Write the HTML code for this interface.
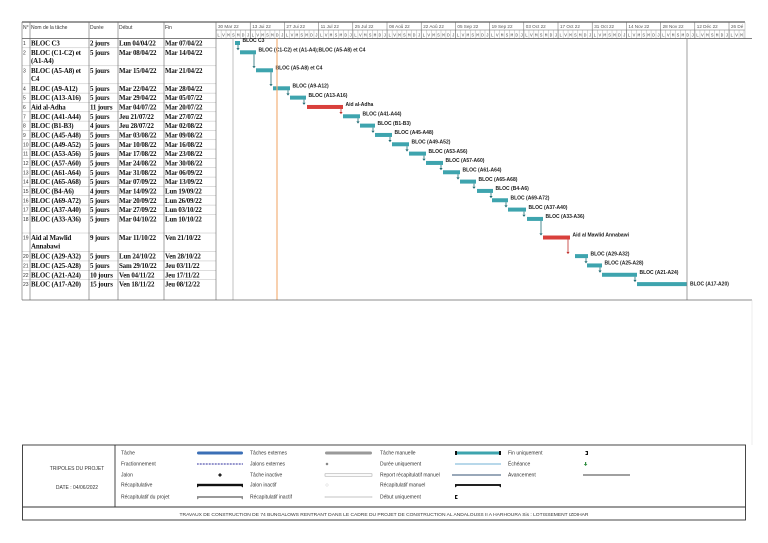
<!DOCTYPE html>
<html><head><meta charset="utf-8"><style>
html,body{margin:0;padding:0;background:#fff;}
svg{display:block;}
.t{font-family:"Liberation Serif",serif;font-weight:bold;font-size:6.9px;letter-spacing:-0.15px;fill:#111;}
.h{font-family:"Liberation Sans",sans-serif;font-size:5px;fill:#333;}
.g{font-family:"Liberation Sans",sans-serif;font-weight:bold;font-size:5px;fill:#222;}
.n{font-family:"Liberation Sans",sans-serif;font-size:4.6px;fill:#555;}
.m{font-family:"Liberation Mono",monospace;font-size:4.5px;letter-spacing:2.186px;fill:#555;}
.l{font-family:"Liberation Sans",sans-serif;font-size:5px;fill:#333;}
.s{stroke:#bbb;stroke-width:0.5;}
.b{fill:#3ea4ae;}
.r{fill:#d9403c;}
.a{stroke:#1f6b73;stroke-width:0.8;fill:none;}
.ah{fill:#1f6b73;}
.ar{stroke:#c0302c;stroke-width:0.8;fill:none;}
.ahr{fill:#c0302c;}
</style></head><body>
<svg width="768" height="543" viewBox="0 0 768 543" xmlns="http://www.w3.org/2000/svg">
<defs>
<pattern id="mt" x="216" y="0" width="4.886" height="10" patternUnits="userSpaceOnUse"><line x1="0.2" y1="0" x2="0.2" y2="10" stroke="#999" stroke-width="0.4"/></pattern>
</defs>
<rect width="768" height="543" fill="#fff"/>
<!-- header -->
<line x1="22" y1="22" x2="745" y2="22" stroke="#333" stroke-width="1"/>
<rect x="216" y="30" width="529" height="8.5" fill="url(#mt)"/>
<line x1="216" y1="30" x2="745" y2="30" stroke="#666" stroke-width="0.5"/>
<line x1="745" y1="22" x2="745" y2="38.5" stroke="#aaa" stroke-width="0.5"/>
<g stroke="#666" stroke-width="0.5">
<line x1="250.2" y1="22" x2="250.2" y2="38.5"/><line x1="284.4" y1="22" x2="284.4" y2="38.5"/><line x1="318.6" y1="22" x2="318.6" y2="38.5"/><line x1="352.8" y1="22" x2="352.8" y2="38.5"/><line x1="387" y1="22" x2="387" y2="38.5"/><line x1="421.2" y1="22" x2="421.2" y2="38.5"/><line x1="455.4" y1="22" x2="455.4" y2="38.5"/><line x1="489.6" y1="22" x2="489.6" y2="38.5"/><line x1="523.8" y1="22" x2="523.8" y2="38.5"/><line x1="558" y1="22" x2="558" y2="38.5"/><line x1="592.2" y1="22" x2="592.2" y2="38.5"/><line x1="626.4" y1="22" x2="626.4" y2="38.5"/><line x1="660.6" y1="22" x2="660.6" y2="38.5"/><line x1="694.8" y1="22" x2="694.8" y2="38.5"/><line x1="729" y1="22" x2="729" y2="38.5"/>
</g>
<g class="n">
<text x="218" y="28">30 Mar 22</text><text x="252.2" y="28">13 Jui 22</text><text x="286.4" y="28">27 Jui 22</text><text x="320.6" y="28">11 Jul 22</text><text x="354.8" y="28">25 Jul 22</text><text x="389" y="28">08 Aoû 22</text><text x="423.2" y="28">22 Aoû 22</text><text x="457.4" y="28">05 Sep 22</text><text x="491.6" y="28">19 Sep 22</text><text x="525.8" y="28">03 Oct 22</text><text x="560" y="28">17 Oct 22</text><text x="594.2" y="28">31 Oct 22</text><text x="628.4" y="28">14 Nov 22</text><text x="662.6" y="28">28 Nov 22</text><text x="696.8" y="28">12 Déc 22</text><text x="731" y="28">26 Dé</text>
</g>
<text x="217.3" y="36.5" class="m">LVMSMDJLVMSMDJLVMSMDJLVMSMDJLVMSMDJLVMSMDJLVMSMDJLVMSMDJLVMSMDJLVMSMDJLVMSMDJLVMSMDJLVMSMDJLVMSMDJLVMSMDJLVM</text>
<text x="23" y="29" class="h">N°</text><text x="31" y="29" class="h">Nom de la tâche</text><text x="90" y="29" class="h">Durée</text><text x="119" y="29" class="h">Début</text><text x="165" y="29" class="h">Fin</text>
<line x1="22" y1="38.5" x2="752" y2="38.5" stroke="#555" stroke-width="0.7"/>

<!-- rows -->
<g transform="translate(0,38.5)"><text x="23" y="6.5" class="h">1</text><text x="31" y="7" class="t">BLOC C3</text><text x="90" y="7" class="t">2 jours</text><text x="119" y="7" class="t">Lun 04/04/22</text><text x="165" y="7" class="t">Mar 07/04/22</text><line x1="22" x2="216" y1="9.3" y2="9.3" class="s"/>
<rect x="235" y="2.5" width="5" height="4" class="b"/><text x="242.5" y="3.7" class="g">BLOC C3</text><path d="M238 6.5V9.6" class="a"/><path d="M236.4 9.6h3.2l-1.6 2.2z" class="ah"/></g>

<g transform="translate(0,47.8)"><text x="23" y="6.5" class="h">2</text><text x="31" y="7" class="t">BLOC (C1-C2) et</text><text x="31" y="15.3" class="t">(A1-A4)</text><text x="90" y="7" class="t">5 jours</text><text x="119" y="7" class="t">Mar 08/04/22</text><text x="165" y="7" class="t">Mar 14/04/22</text><line x1="22" x2="216" y1="18" y2="18" class="s"/>
<rect x="240" y="2.5" width="16" height="4" class="b"/><text x="258.5" y="3.7" class="g">BLOC (C1-C2) et (A1-A4);BLOC (A5-A8) et C4</text><path d="M254 6.5V18.3" class="a"/><path d="M252.4 18.3h3.2l-1.6 2.2z" class="ah"/></g>

<g transform="translate(0,65.8)"><text x="23" y="6.5" class="h">3</text><text x="31" y="7" class="t">BLOC (A5-A8) et</text><text x="31" y="15.3" class="t">C4</text><text x="90" y="7" class="t">5 jours</text><text x="119" y="7" class="t">Mar 15/04/22</text><text x="165" y="7" class="t">Mar 21/04/22</text><line x1="22" x2="216" y1="18" y2="18" class="s"/>
<rect x="256" y="2.5" width="17" height="4" class="b"/><text x="275.5" y="3.7" class="g">BLOC (A5-A8) et C4</text><path d="M271 6.5V18.3" class="a"/><path d="M269.4 18.3h3.2l-1.6 2.2z" class="ah"/></g>

<g transform="translate(0,83.8)"><text x="23" y="6.5" class="h">4</text><text x="31" y="7" class="t">BLOC (A9-A12)</text><text x="90" y="7" class="t">5 jours</text><text x="119" y="7" class="t">Mar 22/04/22</text><text x="165" y="7" class="t">Mar 28/04/22</text><line x1="22" x2="216" y1="9.33" y2="9.33" class="s"/>
<rect x="273" y="2.5" width="17" height="4" class="b"/><text x="292.5" y="3.7" class="g">BLOC (A9-A12)</text><path d="M288 6.5V9.6" class="a"/><path d="M286.4 9.6h3.2l-1.6 2.2z" class="ah"/></g>

<g transform="translate(0,93.13)"><text x="23" y="6.5" class="h">5</text><text x="31" y="7" class="t">BLOC (A13-A16)</text><text x="90" y="7" class="t">5 jours</text><text x="119" y="7" class="t">Mar 29/04/22</text><text x="165" y="7" class="t">Mar 05/07/22</text><line x1="22" x2="216" y1="9.33" y2="9.33" class="s"/>
<rect x="290" y="2.5" width="16" height="4" class="b"/><text x="308.5" y="3.7" class="g">BLOC (A13-A16)</text><path d="M304 6.5V9.6" class="a"/><path d="M302.4 9.6h3.2l-1.6 2.2z" class="ah"/></g>

<g transform="translate(0,102.46)"><text x="23" y="6.5" class="h">6</text><text x="31" y="7" class="t">Aid al-Adha</text><text x="90" y="7" class="t">11 jours</text><text x="119" y="7" class="t">Mar 04/07/22</text><text x="165" y="7" class="t">Mar 20/07/22</text><line x1="22" x2="216" y1="9.33" y2="9.33" class="s"/>
<rect x="307" y="2.5" width="36" height="4" class="r"/><text x="345.5" y="3.7" class="g">Aid al-Adha</text><path d="M341 6.5V9.6" class="ar"/><path d="M339.4 9.6h3.2l-1.6 2.2z" class="ahr"/></g>

<g transform="translate(0,111.79)"><text x="23" y="6.5" class="h">7</text><text x="31" y="7" class="t">BLOC (A41-A44)</text><text x="90" y="7" class="t">5 jours</text><text x="119" y="7" class="t">Jeu 21/07/22</text><text x="165" y="7" class="t">Mar 27/07/22</text><line x1="22" x2="216" y1="9.33" y2="9.33" class="s"/>
<rect x="343" y="2.5" width="17" height="4" class="b"/><text x="362.5" y="3.7" class="g">BLOC (A41-A44)</text><path d="M358 6.5V9.6" class="a"/><path d="M356.4 9.6h3.2l-1.6 2.2z" class="ah"/></g>

<g transform="translate(0,121.12)"><text x="23" y="6.5" class="h">8</text><text x="31" y="7" class="t">BLOC (B1-B3)</text><text x="90" y="7" class="t">4 jours</text><text x="119" y="7" class="t">Jeu 28/07/22</text><text x="165" y="7" class="t">Mar 02/08/22</text><line x1="22" x2="216" y1="9.33" y2="9.33" class="s"/>
<rect x="360" y="2.5" width="15" height="4" class="b"/><text x="377.5" y="3.7" class="g">BLOC (B1-B3)</text><path d="M373 6.5V9.6" class="a"/><path d="M371.4 9.6h3.2l-1.6 2.2z" class="ah"/></g>

<g transform="translate(0,130.45)"><text x="23" y="6.5" class="h">9</text><text x="31" y="7" class="t">BLOC (A45-A48)</text><text x="90" y="7" class="t">5 jours</text><text x="119" y="7" class="t">Mar 03/08/22</text><text x="165" y="7" class="t">Mar 09/08/22</text><line x1="22" x2="216" y1="9.33" y2="9.33" class="s"/>
<rect x="375" y="2.5" width="17" height="4" class="b"/><text x="394.5" y="3.7" class="g">BLOC (A45-A48)</text><path d="M390 6.5V9.6" class="a"/><path d="M388.4 9.6h3.2l-1.6 2.2z" class="ah"/></g>

<g transform="translate(0,139.78)"><text x="23" y="6.5" class="h">10</text><text x="31" y="7" class="t">BLOC (A49-A52)</text><text x="90" y="7" class="t">5 jours</text><text x="119" y="7" class="t">Mar 10/08/22</text><text x="165" y="7" class="t">Mar 16/08/22</text><line x1="22" x2="216" y1="9.33" y2="9.33" class="s"/>
<rect x="392" y="2.5" width="17" height="4" class="b"/><text x="411.5" y="3.7" class="g">BLOC (A49-A52)</text><path d="M407 6.5V9.6" class="a"/><path d="M405.4 9.6h3.2l-1.6 2.2z" class="ah"/></g>

<g transform="translate(0,149.11)"><text x="23" y="6.5" class="h">11</text><text x="31" y="7" class="t">BLOC (A53-A56)</text><text x="90" y="7" class="t">5 jours</text><text x="119" y="7" class="t">Mar 17/08/22</text><text x="165" y="7" class="t">Mar 23/08/22</text><line x1="22" x2="216" y1="9.33" y2="9.33" class="s"/>
<rect x="409" y="2.5" width="17" height="4" class="b"/><text x="428.5" y="3.7" class="g">BLOC (A53-A56)</text><path d="M424 6.5V9.6" class="a"/><path d="M422.4 9.6h3.2l-1.6 2.2z" class="ah"/></g>

<g transform="translate(0,158.44)"><text x="23" y="6.5" class="h">12</text><text x="31" y="7" class="t">BLOC (A57-A60)</text><text x="90" y="7" class="t">5 jours</text><text x="119" y="7" class="t">Mar 24/08/22</text><text x="165" y="7" class="t">Mar 30/08/22</text><line x1="22" x2="216" y1="9.33" y2="9.33" class="s"/>
<rect x="426" y="2.5" width="17" height="4" class="b"/><text x="445.5" y="3.7" class="g">BLOC (A57-A60)</text><path d="M441 6.5V9.6" class="a"/><path d="M439.4 9.6h3.2l-1.6 2.2z" class="ah"/></g>

<g transform="translate(0,167.77)"><text x="23" y="6.5" class="h">13</text><text x="31" y="7" class="t">BLOC (A61-A64)</text><text x="90" y="7" class="t">5 jours</text><text x="119" y="7" class="t">Mar 31/08/22</text><text x="165" y="7" class="t">Mar 06/09/22</text><line x1="22" x2="216" y1="9.33" y2="9.33" class="s"/>
<rect x="443" y="2.5" width="17" height="4" class="b"/><text x="462.5" y="3.7" class="g">BLOC (A61-A64)</text><path d="M458 6.5V9.6" class="a"/><path d="M456.4 9.6h3.2l-1.6 2.2z" class="ah"/></g>

<g transform="translate(0,177.1)"><text x="23" y="6.5" class="h">14</text><text x="31" y="7" class="t">BLOC (A65-A68)</text><text x="90" y="7" class="t">5 jours</text><text x="119" y="7" class="t">Mar 07/09/22</text><text x="165" y="7" class="t">Mar 13/09/22</text><line x1="22" x2="216" y1="9.33" y2="9.33" class="s"/>
<rect x="460" y="2.5" width="16" height="4" class="b"/><text x="478.5" y="3.7" class="g">BLOC (A65-A68)</text><path d="M474 6.5V9.6" class="a"/><path d="M472.4 9.6h3.2l-1.6 2.2z" class="ah"/></g>

<g transform="translate(0,186.43)"><text x="23" y="6.5" class="h">15</text><text x="31" y="7" class="t">BLOC (B4-A6)</text><text x="90" y="7" class="t">4 jours</text><text x="119" y="7" class="t">Mar 14/09/22</text><text x="165" y="7" class="t">Lun 19/09/22</text><line x1="22" x2="216" y1="9.33" y2="9.33" class="s"/>
<rect x="477" y="2.5" width="16" height="4" class="b"/><text x="495.5" y="3.7" class="g">BLOC (B4-A6)</text><path d="M491 6.5V9.6" class="a"/><path d="M489.4 9.6h3.2l-1.6 2.2z" class="ah"/></g>

<g transform="translate(0,195.76)"><text x="23" y="6.5" class="h">16</text><text x="31" y="7" class="t">BLOC (A69-A72)</text><text x="90" y="7" class="t">5 jours</text><text x="119" y="7" class="t">Mar 20/09/22</text><text x="165" y="7" class="t">Lun 26/09/22</text><line x1="22" x2="216" y1="9.33" y2="9.33" class="s"/>
<rect x="492" y="2.5" width="16" height="4" class="b"/><text x="510.5" y="3.7" class="g">BLOC (A69-A72)</text><path d="M506 6.5V9.6" class="a"/><path d="M504.4 9.6h3.2l-1.6 2.2z" class="ah"/></g>

<g transform="translate(0,205.09)"><text x="23" y="6.5" class="h">17</text><text x="31" y="7" class="t">BLOC (A37-A40)</text><text x="90" y="7" class="t">5 jours</text><text x="119" y="7" class="t">Mar 27/09/22</text><text x="165" y="7" class="t">Lun 03/10/22</text><line x1="22" x2="216" y1="9.33" y2="9.33" class="s"/>
<rect x="508" y="2.5" width="18" height="4" class="b"/><text x="528.5" y="3.7" class="g">BLOC (A37-A40)</text><path d="M524 6.5V9.6" class="a"/><path d="M522.4 9.6h3.2l-1.6 2.2z" class="ah"/></g>

<g transform="translate(0,214.42)"><text x="23" y="6.5" class="h">18</text><text x="31" y="7" class="t">BLOC (A33-A36)</text><text x="90" y="7" class="t">5 jours</text><text x="119" y="7" class="t">Mar 04/10/22</text><text x="165" y="7" class="t">Lun 10/10/22</text><line x1="22" x2="216" y1="18.6" y2="18.6" class="s"/>
<rect x="527" y="2.5" width="16" height="4" class="b"/><text x="545.5" y="3.7" class="g">BLOC (A33-A36)</text><path d="M541 6.5V18.9" class="a"/><path d="M539.4 18.9h3.2l-1.6 2.2z" class="ah"/></g>

<g transform="translate(0,233.02)"><text x="23" y="6.5" class="h">19</text><text x="31" y="7" class="t">Aid al Mawlid</text><text x="31" y="15.3" class="t">Annabawi</text><text x="90" y="7" class="t">9 jours</text><text x="119" y="7" class="t">Mar 11/10/22</text><text x="165" y="7" class="t">Ven 21/10/22</text><line x1="22" x2="216" y1="18.6" y2="18.6" class="s"/>
<rect x="543" y="2.5" width="27" height="4" class="r"/><text x="572.5" y="3.7" class="g">Aid al Mawlid Annabawi</text><path d="M568 6.5V18.9" class="ar"/><path d="M566.4 18.9h3.2l-1.6 2.2z" class="ahr"/></g>

<g transform="translate(0,251.62)"><text x="23" y="6.5" class="h">20</text><text x="31" y="7" class="t">BLOC (A29-A32)</text><text x="90" y="7" class="t">5 jours</text><text x="119" y="7" class="t">Lun 24/10/22</text><text x="165" y="7" class="t">Ven 28/10/22</text><line x1="22" x2="216" y1="9.33" y2="9.33" class="s"/>
<rect x="575" y="2.5" width="13" height="4" class="b"/><text x="590.5" y="3.7" class="g">BLOC (A29-A32)</text><path d="M586 6.5V9.6" class="a"/><path d="M584.4 9.6h3.2l-1.6 2.2z" class="ah"/></g>

<g transform="translate(0,260.95)"><text x="23" y="6.5" class="h">21</text><text x="31" y="7" class="t">BLOC (A25-A28)</text><text x="90" y="7" class="t">5 jours</text><text x="119" y="7" class="t">Sam 29/10/22</text><text x="165" y="7" class="t">Jeu 03/11/22</text><line x1="22" x2="216" y1="9.33" y2="9.33" class="s"/>
<rect x="587" y="2.5" width="15" height="4" class="b"/><text x="604.5" y="3.7" class="g">BLOC (A25-A28)</text><path d="M600 6.5V9.6" class="a"/><path d="M598.4 9.6h3.2l-1.6 2.2z" class="ah"/></g>

<g transform="translate(0,270.28)"><text x="23" y="6.5" class="h">22</text><text x="31" y="7" class="t">BLOC (A21-A24)</text><text x="90" y="7" class="t">10 jours</text><text x="119" y="7" class="t">Ven 04/11/22</text><text x="165" y="7" class="t">Jeu 17/11/22</text><line x1="22" x2="216" y1="9.33" y2="9.33" class="s"/>
<rect x="602" y="2.5" width="35" height="4" class="b"/><text x="639.5" y="3.7" class="g">BLOC (A21-A24)</text><path d="M635 6.5V9.6" class="a"/><path d="M633.4 9.6h3.2l-1.6 2.2z" class="ah"/></g>

<g transform="translate(0,279.61)"><text x="23" y="6.5" class="h">23</text><text x="31" y="7" class="t">BLOC (A17-A20)</text><text x="90" y="7" class="t">15 jours</text><text x="119" y="7" class="t">Ven 18/11/22</text><text x="165" y="7" class="t">Jeu 08/12/22</text>
<rect x="637" y="2.5" width="50" height="4" class="b"/><text x="690" y="6" class="g">BLOC (A17-A20)</text></g>

<!-- grid lines -->
<g stroke="#666" stroke-width="0.6">
<line x1="22" y1="22" x2="22" y2="300"/><line x1="30" y1="22" x2="30" y2="300"/><line x1="89" y1="22" x2="89" y2="300"/><line x1="118" y1="22" x2="118" y2="300"/><line x1="164" y1="22" x2="164" y2="300"/><line x1="216" y1="22" x2="216" y2="300"/>
</g>
<line x1="233" y1="38.5" x2="233" y2="300" stroke="#999" stroke-width="0.6"/>
<line x1="687" y1="38.5" x2="687" y2="300" stroke="#888" stroke-width="0.8"/>
<line x1="277" y1="38.5" x2="277" y2="300" stroke="#f2b27a" stroke-width="1.2"/>
<line x1="22" y1="300" x2="752" y2="300" stroke="#666" stroke-width="0.8"/>
<line x1="752" y1="300" x2="752" y2="445" stroke="#ddd" stroke-width="0.5"/>

<!-- legend -->
<rect x="22.5" y="445" width="723" height="75" fill="none" stroke="#333" stroke-width="0.9"/>
<line x1="115" y1="445" x2="115" y2="507" stroke="#333" stroke-width="0.9"/>
<line x1="22.5" y1="507" x2="745.5" y2="507" stroke="#333" stroke-width="0.9"/>
<text x="77" y="470" class="l" text-anchor="middle">TRIPOLES DU PROJET</text>
<text x="77" y="489" class="l" text-anchor="middle">DATE : 04/06/2022</text>
<text x="384" y="516" class="l" text-anchor="middle" style="font-size:4.9px">TRAVAUX DE CONSTRUCTION DE 74 BUNGALOWS RENTRANT DANS LE CADRE DU PROJET DE CONSTRUCTION AL ANDALOUSS II A HARHOURA Sis : LOTISSEMENT IZDIHAR</text>
<g class="l">
<text x="121" y="454.7">Tâche</text><text x="121" y="465.7">Fractionnement</text><text x="121" y="476.7">Jalon</text><text x="121" y="486.7">Récapitulative</text><text x="121" y="498.7">Récapitulatif du projet</text>
<text x="250" y="454.7">Tâches externes</text><text x="250" y="465.7">Jalons externes</text><text x="250" y="476.7">Tâche inactive</text><text x="250" y="486.7">Jalon inactif</text><text x="250" y="498.7">Récapitulatif inactif</text>
<text x="380" y="454.7">Tâche manuelle</text><text x="380" y="465.7">Durée uniquement</text><text x="380" y="476.7">Report récapitulatif manuel</text><text x="380" y="486.7">Récapitulatif manuel</text><text x="380" y="498.7">Début uniquement</text>
<text x="508" y="454.7">Fin uniquement</text><text x="508" y="465.7">Échéance</text><text x="508" y="476.7">Avancement</text>
</g>
<!-- col1 samples -->
<rect x="197" y="451.5" width="46" height="3" rx="1.5" fill="#3b6fb6"/>
<line x1="197" y1="464" x2="243" y2="464" stroke="#6a6ab8" stroke-width="2" stroke-dasharray="0.7 0.8"/>
<path d="M220 473 l2 2 l-2 2 l-2 -2z" fill="#222"/>
<rect x="197" y="483.8" width="46" height="2.4" fill="#111"/><path d="M197 485 v2.5 l2 -1.5z M243 485 v2.5 l-2 -1.5z" fill="#111"/>
<rect x="197" y="496" width="46" height="2" fill="#999"/><path d="M197 497 v2.5 l2 -1.5z M243 497 v2.5 l-2 -1.5z" fill="#888"/>
<!-- col2 -->
<rect x="325" y="451.5" width="47" height="3" rx="1.5" fill="#999"/>
<path d="M327 462.5 l1.5 1.5 l-1.5 1.5 l-1.5 -1.5z" fill="#777"/>
<rect x="325" y="473.8" width="47" height="2.4" fill="#fff" stroke="#999" stroke-width="0.5"/>
<path d="M327 483.5 l1.5 1.5 l-1.5 1.5 l-1.5 -1.5z" fill="none" stroke="#bbb" stroke-width="0.4"/>
<rect x="325" y="496.2" width="47" height="1.6" fill="#eee" stroke="#ccc" stroke-width="0.4"/>
<!-- col3 -->
<rect x="455" y="451.5" width="46" height="3" fill="#3ea4ae"/><rect x="455" y="451" width="2" height="4" fill="#111"/><rect x="499" y="451" width="2" height="4" fill="#111"/>
<rect x="455" y="463" width="46" height="2" fill="#b8d8ea"/>
<rect x="452" y="474.2" width="49" height="1.6" fill="#8093a8"/>
<rect x="455" y="484" width="46" height="2" fill="#222"/><path d="M455 485 v2.5 l2 -1.5z M501 485 v2.5 l-2 -1.5z" fill="#111"/>
<path d="M455 495 h2.5 v1 h-1.3 v2 h1.3 v1 h-2.5z" fill="#111"/>
<!-- col4 -->
<path d="M588 451 h-2.5 v1 h1.3 v2 h-1.3 v1 h2.5z" fill="#111"/>
<path d="M585 462 h1.2 v2 h1.2 l-1.8 2 l-1.8 -2 h1.2z" fill="#2e8b3e"/>
<rect x="583" y="474.2" width="47" height="1.6" fill="#888"/>
</svg>
</body></html>
